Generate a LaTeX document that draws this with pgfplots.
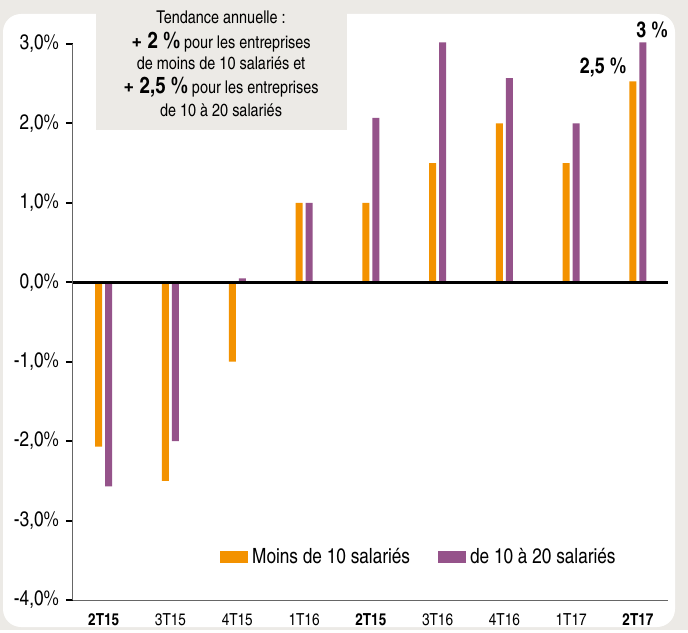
\documentclass[border=0pt]{standalone}
\usepackage{pgfplots}
\pgfplotsset{compat=1.18}
\usepackage{fontspec}
\setmainfont{texgyreheroscn}[Extension=.otf, UprightFont=*-regular, BoldFont=*-bold, ItalicFont=*-italic, BoldItalicFont=*-bolditalic]
\definecolor{bgc}{HTML}{ECEAE6}
\definecolor{orng}{HTML}{F39200}
\definecolor{purp}{HTML}{95538A}
\begin{document}
\begin{tikzpicture}[x=1pt,y=1pt]
\fill[bgc] (0,0) rectangle (344,315);
\fill[white, rounded corners=9pt] (1.5,1.5) rectangle (337.5,308);
\fill[bgc] (48,250) rectangle (173.5,315);
\node[font=\fontsize{8.8}{10}\selectfont] at (110.5,306.5) {Tendance annuelle :};
\node[font=\fontsize{8.8}{10}\selectfont] at (110.5,294) {{\fontsize{11.5}{12}\selectfont\bfseries + 2 \%} pour les entreprises};
\node[font=\fontsize{8.8}{10}\selectfont] at (110.5,283.5) {de moins de 10 salariés et};
\node[font=\fontsize{8.8}{10}\selectfont] at (110.5,271.5) {{\fontsize{11.5}{12}\selectfont\bfseries + 2,5 \%} pour les entreprises};
\node[font=\fontsize{8.8}{10}\selectfont] at (110.5,260) {de 10 à 20 salariés};
\node[font=\fontsize{11}{12}\selectfont\bfseries] at (301.5,281) {2,5 \%};
\node[font=\fontsize{11}{12}\selectfont\bfseries] at (326,300) {3 \%};
\begin{axis}[
  at={(36.5pt,15pt)}, anchor=south west,
  scale only axis, width=297.5pt, height=278pt,
  xmin=-0.46, xmax=8.45, ymin=-4, ymax=3,
  ybar=1.5pt, bar width=3.5pt,
  axis x line*=bottom, axis y line*=left,
  axis line style={-, draw=gray!80!black, line width=0.5pt},
  xtick={0,...,8},
  xticklabels={\textbf{2T15},3T15,4T15,1T16,\textbf{2T15},3T16,4T16,1T17,\textbf{2T17}},
  xtick style={draw=none},
  ytick={-4,-3,-2,-1,0,1,2,3},
  yticklabels={-4{,}0\%,-3{,}0\%,-2{,}0\%,-1{,}0\%,0{,}0\%,1{,}0\%,2{,}0\%,3{,}0\%},
  ytick style={draw=black, line width=1pt},
  major tick length=3.5pt, tick align=outside,
  yticklabel style={font=\fontsize{10.5}{11}\selectfont},
  xticklabel style={font=\fontsize{8.3}{9}\selectfont},
  clip=false,
  legend style={at={(0.583,0.077)}, anchor=center, draw=none, fill=none,
    legend columns=2, font=\fontsize{10.5}{11}\selectfont,
    /tikz/every even column/.append style={column sep=12pt}},
]
\addplot[draw=none, fill=orng, legend image code/.code={\fill[orng] (0pt,-3pt) rectangle (14pt,3pt);}] coordinates {
(0,-2.07) (1,-2.5) (2,-1.0) (3,1.0) (4,1.0) (5,1.5) (6,2.0) (7,1.5) (8,2.53)};
\addlegendentry{Moins de 10 salariés}
\addplot[draw=none, fill=purp, legend image code/.code={\fill[purp] (0pt,-3pt) rectangle (14pt,3pt);}] coordinates {
(0,-2.57) (1,-2.0) (2,0.05) (3,1.0) (4,2.07) (5,3.02) (6,2.57) (7,2.0) (8,3.02)};
\addlegendentry{de 10 à 20 salariés}
\draw[black, line width=1.5pt] (rel axis cs:0,0.5714) -- (rel axis cs:1,0.5714);
\end{axis}
\end{tikzpicture}
\end{document}
